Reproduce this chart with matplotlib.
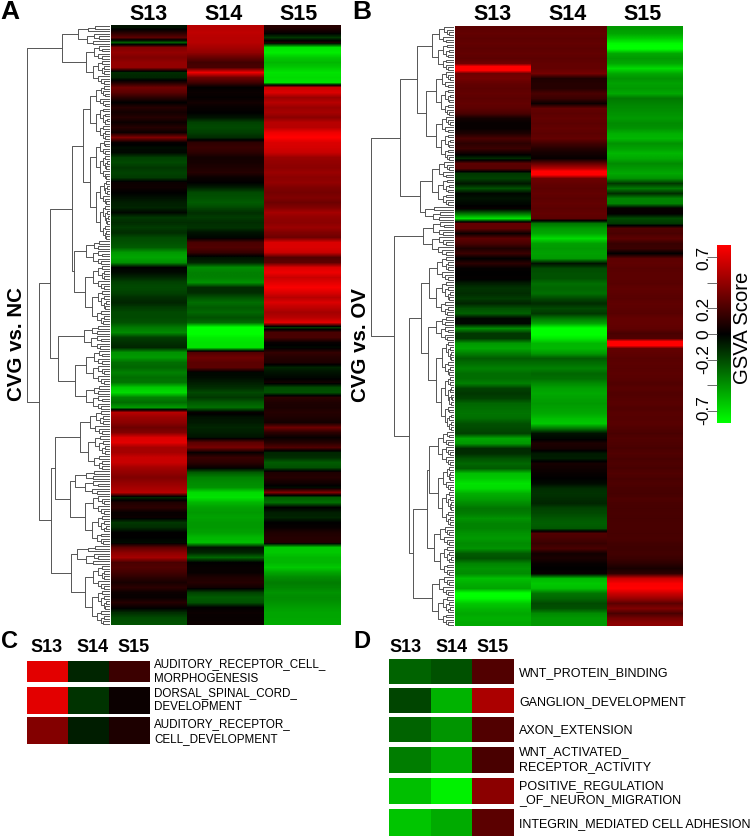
import matplotlib
matplotlib.use("Agg")
import matplotlib.pyplot as plt
import numpy as np
from matplotlib.colors import LinearSegmentedColormap

plt.rcParams['font.family'] = ['Liberation Sans', 'DejaVu Sans']

# Data
samples = ["S13", "S14", "S15"]

a_s13 = [-.05, .1, .25, -.25, .35, .4, .35, .4, .4, -.12,
         -.1, .08, .3, .25, .12, 0, .1, .05, .1, .03,
         .1, .03, .35, .02, -.03, -.02, -.17, -.2, -.15, -.18,
         -.16, .03, .04, 0, -.04, -.08, -.1, -.02, -.15, -.12,
         -.16, -.12, -.2, -.22, -.25, -.42, -.45, -.4, 0, -.03,
         -.1, -.18, -.2, -.18, -.13, -.1, -.16, -.2, -.2, -.22,
         -.33, -.38, -.17, -.13, -.1, -.4, -.42, -.3, -.28, -.35,
         -.3, -.32, -.55, -.6, -.35, -.3, -.42, .5, .42, .38,
         .3, .35, .6, .62, .45, .45, .55, .55, .45, .4,
         .35, .4, .45, .5, -.1, .08, .12, .02, .03, -.15,
         -.12, 0, 0, -.03, .25, .38, .45, .2, .22, .18,
         .12, .06, .12, .03, .02, .1, .02, -.12, -.2, -.22]
a_s14 = [.5, .52, .5, .5, .45, .4, .28, .18, .2, .65,
         .3, .18, 0, .03, .01, .05, .02, 0, -.05, -.18,
         -.2, -.17, -.12, .12, .15, .12, .05, .06, .08, .1,
         .03, 0, -.08, -.2, -.22, -.25, -.2, -.13, -.16, -.12,
         -.14, -.05, -.02, .2, .22, .15, -.05, -.1, -.38, -.35,
         -.35, -.4, -.12, -.12, -.22, -.3, -.25, -.28, -.22, -.28,
         -.72, -.72, -.65, -.62, -.62, .22, .3, .25, .25, -.02,
         -.03, -.08, -.12, -.2, -.15, -.25, -.3, .02, -.05, -.07,
         -.1, -.08, -.05, .25, .32, .02, .15, .12, .03, -.25,
         -.35, -.38, -.4, -.6, -.62, -.5, -.44, -.42, -.44, -.42,
         -.42, -.44, -.5, -.52, -.05, -.1, -.28, 0, .02, .02,
         .08, .1, .05, -.18, -.25, -.22, 0, .03, .02, .03]
a_s15 = [.1, .03, -.15, .08, -.62, -.65, -.55, -.5, -.55, -.62,
         -.6, -.62, .55, .6, .42, .5, .42, .45, .38, .5,
         .5, .65, .7, .6, .58, .55, .42, .4, .38, .42,
         .38, .4, .35, .32, .35, .3, .35, .45, .4, .38,
         .42, .35, .3, .6, .6, .55, .22, .25, .6, .65,
         .55, .62, .68, .6, .5, .6, .52, .45, .5, .62,
         -.15, .2, .2, .02, -.02, .14, .1, .08, -.1, -.05,
         -.02, .05, -.2, -.22, .12, .08, .07, .1, .08, .05,
         .3, .12, .02, .1, .22, -.1, -.12, -.25, -.22, .08,
         .1, .05, -.03, .35, -.25, -.3, 0, -.08, -.1, 0,
         .02, .08, .1, .1, -.55, -.55, -.5, -.5, -.55, -.45,
         -.38, -.34, -.36, -.4, -.38, -.4, -.43, -.45, -.45, -.47]

b_s13 = [.25, .27, .25, .27, .25, .27, .25, .3, .95, .3,
         .32, .27, .25, .27, .25, .27, .25, .2, .05, .02,
         .02, .08, .2, .12, .16, .04, -.12, .25, .24, -.15,
         -.18, -.06, -.22, -.02, -.05, -.02, .02, -.3, -.62, .27,
         .27, .03, .25, .2, .08, .16, 0, .12, .01, 0,
         .01, -.08, -.14, -.12, -.16, -.1, -.22, -.26, -.02, -.02,
         -.38, -.15, -.15, -.42, -.45, -.35, -.25, -.3, -.35, -.3,
         -.3, -.35, -.18, -.15, -.18, -.28, -.3, -.32, -.3, -.22,
         -.2, -.18, -.45, -.42, -.12, -.12, -.22, -.28, -.25, -.52,
         -.55, -.62, -.6, -.48, -.44, -.38, -.32, -.34, -.4, -.36,
         -.36, -.4, -.42, -.38, -.4, -.25, -.22, -.36, -.4, -.38,
         -.52, -.48, -.45, -.72, -.68, -.55, -.5, -.46, -.48, -.46]
b_s14 = [.25, .27, .25, .27, .25, .27, .25, .27, .27, .32,
         .08, .1, .1, .2, .16, .03, .27, .25, .27, .25,
         .27, .25, .27, .18, .1, .05, .02, .27, .5, .85,
         .3, .27, .25, .27, .25, .27, .25, .27, .25, -.32,
         -.42, -.46, -.6, -.44, -.42, -.44, -.42, -.05, -.2, -.22,
         -.22, -.3, -.28, -.3, -.2, -.12, -.2, -.15, -.32, -.45,
         -.72, -.72, -.64, -.5, -.5, -.42, -.25, -.3, -.35, -.28,
         -.3, -.38, -.44, -.46, -.44, -.42, -.44, -.46, -.52, -.55,
         -.32, -.05, -.02, .08, .06, -.07, -.08, .06, .04, .02,
         0, -.03, -.12, -.14, -.12, -.1, -.18, -.2, -.24, -.26,
         -.24, .22, .2, .15, .2, .05, .07, .02, 0, .02,
         -.5, -.55, -.52, -.32, -.28, -.2, -.22, -.38, -.42, -.42]
b_s15 = [-.42, -.45, -.55, -.68, -.72, -.46, -.42, -.46, -.6, -.46,
         -.4, -.44, -.42, -.46, -.33, -.36, -.38, -.4, -.42, -.38,
         -.4, -.48, -.5, -.4, -.44, -.5, -.46, -.38, -.42, -.46,
         -.4, -.15, -.33, -.12, -.36, -.36, .02, .01, -.2, -.15,
         .22, .2, .25, .15, .16, 0, .25, .26, .24, .25,
         .25, .24, .26, .25, .24, .26, .25, .24, .27, .27,
         .26, .2, .22, 1.0, .27, .26, .24, .25, .24, .25,
         .24, .22, .24, .22, .23, .24, .22, .24, .23, .24,
         .22, .2, .22, .21, .2, .22, .2, .21, .2, .22,
         .2, .21, .2, .19, .21, .2, .19, .2, .19, .2,
         .2, .19, .2, .18, .17, .18, .16, .12, .06, .12,
         .55, .68, .7, .55, .42, .25, .35, .2, .32, .38]

# dendrograms: (height, child, child) for joins, (height, rows) for a cluster
tree_a = (83,
          (48, (32, 4), (24, 8)),
          (71,
           (60,
            (38,
             (27, (20, 11), (20, (14, 8), (14, 12))),
             (36, (24, 5), (25, 12))),
            (52, (26, 5), (35, (24, 7), (24, 5)))),
           (59,
            (55, (30, 12), (40, (35, 5), (25, 10))),
            (39, (33, 4), (25, 12)))))
tree_b = (83,
          (54,
           (37, (22, 9), (28, (18, 9), (18, 9))),
           (34, (22, 9), (29, 3))),
          (60,
           (31, 7),
           (45,
            (33, (25, 12), (26, (18, 5), (18, 18))),
            (41, (27, (25, (16, 7), (16, 12)), (20, 10)), (22, 10)))))

c_labels = ["AUDITORY_RECEPTOR_CELL_\nMORPHOGENESIS",
            "DORSAL_SPINAL_CORD_\nDEVELOPMENT",
            "AUDITORY_RECEPTOR_\nCELL_DEVELOPMENT"]
c_s13 = [.62, .62, .36]
c_s14 = [-.1, -.14, -.08]
c_s15 = [.16, .03, .08]

d_labels = ["WNT_PROTEIN_BINDING", "GANGLION_DEVELOPMENT", "AXON_EXTENSION",
            "WNT_ACTIVATED_\nRECEPTOR_ACTIVITY",
            "POSITIVE_REGULATION\n_OF_NEURON_MIGRATION",
            "INTEGRIN_MEDIATED CELL ADHESION"]
d_s13 = [-.27, -.19, -.27, -.34, -.52, -.54]
d_s14 = [-.22, -.49, -.41, -.47, -.66, -.47]
d_s15 = [.22, .47, .22, .2, .38, .25]

cbar_ticks = [-3, -2, -1, 0, 1, 2, 3]
cbar_labels = ["-0.7", "", "-0.2", "0", "0.2", "", "0.7"]

W, H = 752, 836
cmap = LinearSegmentedColormap.from_list("gsva", ["#00ff00", "#000000", "#ff0000"])
fig = plt.figure(figsize=(W / 100, H / 100), dpi=100)


def px_axes(x0, y0, x1, y1):
    return fig.add_axes([x0 / W, 1 - y1 / H, (x1 - x0) / W, (y1 - y0) / H])


def px_text(x, y, s, **kw):
    fig.text(x / W, 1 - y / H, s, **kw)


def heat(x0, y0, x1, y1, values):
    ax = px_axes(x0, y0, x1, y1)
    ax.pcolormesh(np.array(values), cmap=cmap, vmin=-0.7, vmax=0.7, antialiased=False)
    ax.invert_yaxis()
    ax.axis("off")


def big_heat(x0, y0, x1, y1, columns):
    # one image per column so the soft rows do not bleed across columns
    ax = px_axes(x0, y0, x1, y1)
    for j, col in enumerate(columns):
        col = np.array(col).reshape(-1, 1)
        ax.imshow(col, cmap=cmap, vmin=-0.7, vmax=0.7, aspect="auto",
                  interpolation="bilinear", extent=[j, j + 1, len(col), 0])
    ax.set_xlim(0, len(columns))
    ax.set_ylim(len(columns[0]), 0)
    ax.axis("off")


def draw_cluster(ax, start, rows, h, depth=0):
    # fills in the small joins of a cluster, two leaves per heatmap row
    if rows <= 0.5:
        return start + rows / 2
    if h < 2:
        ax.plot([0, 3], [start + rows / 2] * 2, color="#777777", lw=0.5)
        return start + rows / 2
    frac = [0.4, 0.55, 0.3][depth % 3]
    first = max(0.5, round(rows * frac * 2) / 2)
    if first >= rows:
        first = rows - 0.5
    y1 = draw_cluster(ax, start, first, h * 0.68, depth + 1)
    y2 = draw_cluster(ax, start + first, rows - first, h * 0.72, depth + 1)
    h1 = h * 0.68 if first > 0.5 else 0
    h2 = h * 0.72 if rows - first > 0.5 else 0
    ax.plot([h1, h, h, h2], [y1, y1, y2, y2], color="#555555", lw=0.7)
    return (y1 + y2) / 2


def draw_tree(ax, node, start=0):
    if len(node) == 2:
        h, rows = node
        return draw_cluster(ax, start, rows, h), h, start + rows
    h, left, right = node
    y1, h1, end = draw_tree(ax, left, start)
    y2, h2, end = draw_tree(ax, right, end)
    ax.plot([h1, h, h, h2], [y1, y1, y2, y2], color="#555555", lw=0.7)
    return (y1 + y2) / 2, h, end


def dendrogram(x0, y0, x1, y1, tree):
    ax = px_axes(x0, y0, x1, y1)
    draw_tree(ax, tree)
    ax.set_xlim(x1 - x0, 0)
    ax.set_ylim(120, 0)
    ax.axis("off")


# a) big heatmaps
big_heat(111, 25, 340, 625, [a_s13, a_s14, a_s15])
dendrogram(0, 25, 110, 625, tree_a)
big_heat(455, 26, 683, 626, [b_s13, b_s14, b_s15])
dendrogram(344, 26, 454, 626, tree_b)

for x, name in zip([148, 224, 299], samples):
    px_text(x, 14, name, fontsize=15.5, fontweight="bold", ha="center", va="center")
for x, name in zip([492, 568, 643], samples):
    px_text(x, 14, name, fontsize=15.5, fontweight="bold", ha="center", va="center")

px_text(10, 12, "A", fontsize=19, fontweight="bold", ha="center", va="center")
px_text(362, 12, "B", fontsize=19, fontweight="bold", ha="center", va="center")
px_text(9, 641, "C", fontsize=17, fontweight="bold", ha="center", va="center")
px_text(362, 641, "D", fontsize=17, fontweight="bold", ha="center", va="center")

px_text(17, 344, "CVG vs. NC", fontsize=14.8, fontweight="bold", rotation=90,
        ha="center", va="center")
px_text(360, 345, "CVG vs. OV", fontsize=14.8, fontweight="bold", rotation=90,
        ha="center", va="center")

# b) colour bar
ax = px_axes(717, 245, 731, 423)
ax.imshow(np.linspace(1, -1, 256).reshape(-1, 1), cmap=cmap, aspect="auto",
          extent=[0, 1, -3.49, 3.49])
ax.set_xticks([])
ax.set_yticks(cbar_ticks)
ax.set_yticklabels(cbar_labels, rotation=90, va="center", fontsize=12.5)
ax.tick_params(axis="y", length=7, width=0.6, color="#555555", pad=-3)
for s in ax.spines.values():
    s.set_visible(False)
px_text(742, 328, "GSVA Score", fontsize=14.6, rotation=90, ha="center", va="center")

# c) small panels
c_rows = [(661, 682), (687, 714), (717, 744)]
c_text = [(664, 679), (693, 707), (724, 739)]
for i, (y0, y1) in enumerate(c_rows):
    heat(27, y0, 150, y1, [[c_s13[i], c_s14[i], c_s15[i]]])
    for line, y in zip(c_labels[i].split("\n"), c_text[i]):
        px_text(154, y, line, fontsize=8.4, ha="left", va="center")
for x, name in zip([47, 93, 134], samples):
    px_text(x, 648, name, fontsize=13, fontweight="bold", ha="center", va="center")

d_rows = [(659, 684), (688, 713), (717, 742), (747, 773), (778, 804), (809, 836)]
d_text = [(673,), (702,), (730,), (752, 767), (786, 800), (824,)]
for i, (y0, y1) in enumerate(d_rows):
    heat(389, y0, 514, y1, [[d_s13[i], d_s14[i], d_s15[i]]])
    for line, y in zip(d_labels[i].split("\n"), d_text[i]):
        px_text(519, y, line, fontsize=9, ha="left", va="center")
for x, name in zip([406, 452, 493], samples):
    px_text(x, 647, name, fontsize=13, fontweight="bold", ha="center", va="center")

fig.savefig("out.png", dpi=100)
